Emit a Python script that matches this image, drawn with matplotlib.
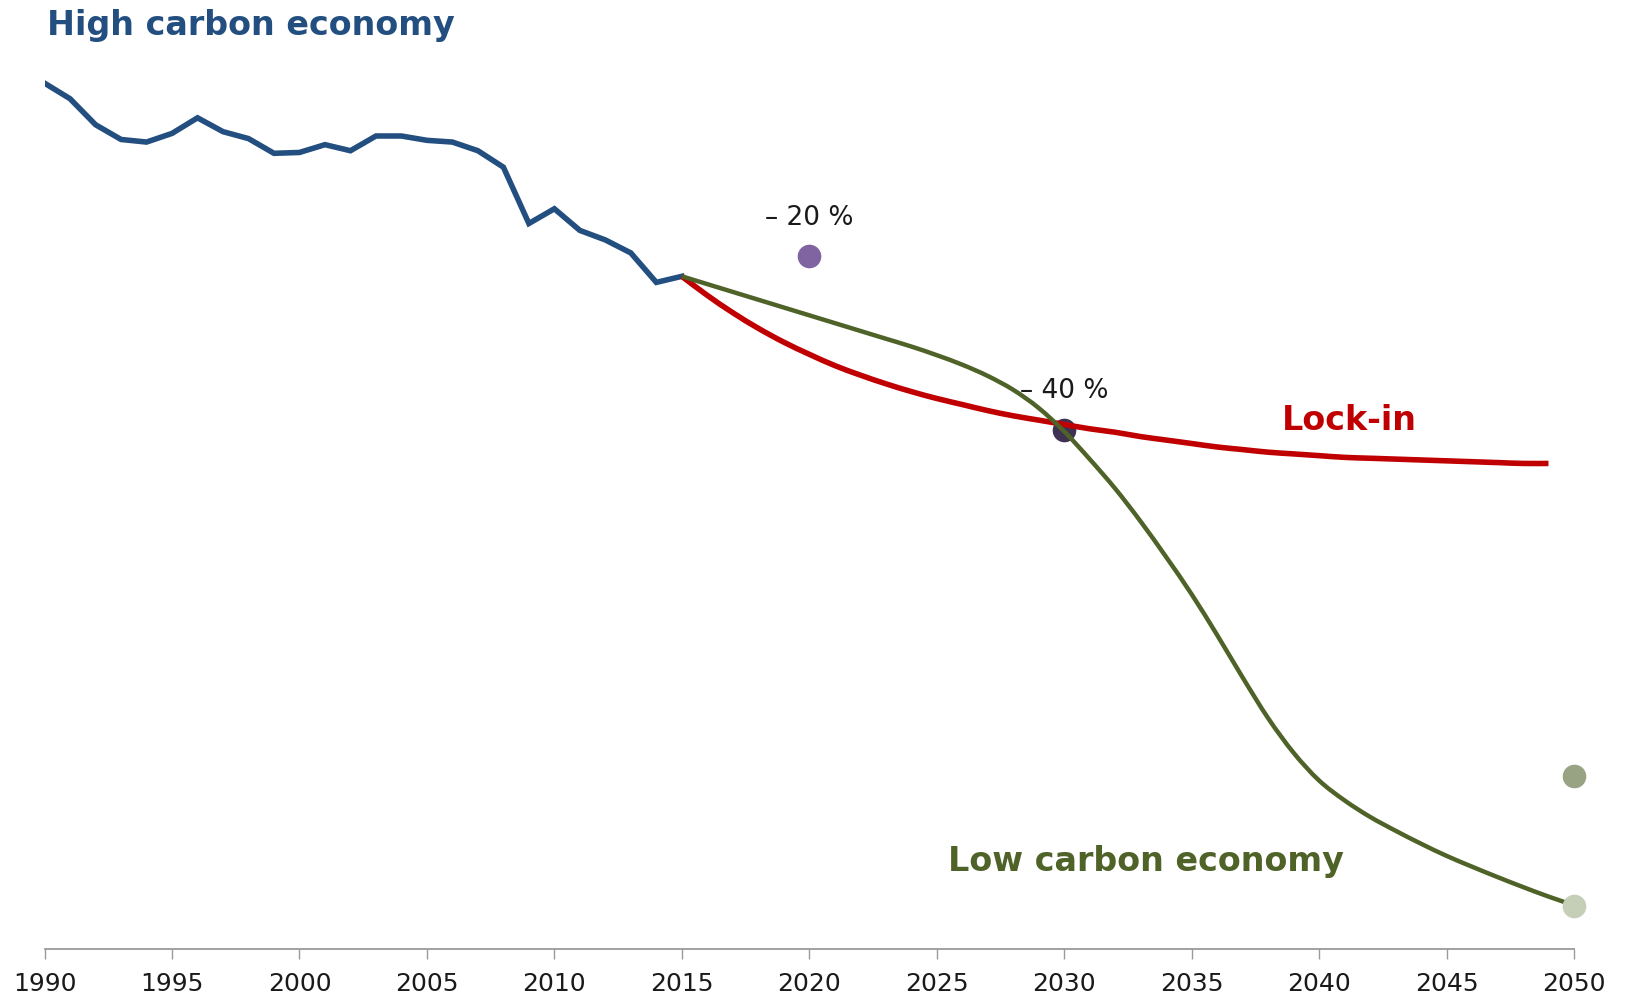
import numpy as np
import matplotlib
matplotlib.use("Agg")
import matplotlib.pyplot as plt
from matplotlib.path import Path
from matplotlib.patches import PathPatch

# Emissions index, 1990 = 100
hist_years = list(range(1990, 2016))
hist_values = [100.0, 98.2, 95.2, 93.5, 93.2, 94.2, 96.0, 94.4, 93.6, 91.9,
               92.0, 92.9, 92.2, 93.9, 93.9, 93.4, 93.2, 92.2, 90.3, 83.8,
               85.5, 83.0, 81.9, 80.4, 77.0, 77.7]

lockin_years = list(range(2015, 2050))
lockin_values = [77.7, 75.5, 73.5, 71.7, 70.1, 68.7, 67.4, 66.3, 65.3, 64.4,
                 63.6, 62.9, 62.2, 61.6, 61.1, 60.6, 60.1, 59.7, 59.2, 58.8,
                 58.4, 58.0, 57.7, 57.4, 57.2, 57.0, 56.8, 56.7, 56.6, 56.5,
                 56.4, 56.3, 56.2, 56.1, 56.1]

low_years = list(range(2015, 2051))
low_values = [77.7, 76.8, 75.9, 75.0, 74.1, 73.2, 72.3, 71.4, 70.5, 69.6,
              68.6, 67.5, 66.2, 64.6, 62.5, 59.8, 56.6, 53.2, 49.4, 45.3,
              41.0, 36.3, 31.4, 26.7, 22.7, 19.5, 17.2, 15.3, 13.7, 12.2,
              10.8, 9.55, 8.35, 7.2, 6.1, 5.1]

# Reduction targets relative to 1990
target_years = [2020, 2030]
target_values = [80, 60]
target_labels = ["\u2013 20 %", "\u2013 40 %"]
target_colors = ["#8064a2", "#3f3151"]

range_2050 = [20, 5]
range_colors = ["#98a383", "#c5cfb8"]

x_ticks = list(range(1990, 2051, 5))

BLUE = "#234e80"
RED = "#c00000"
GREEN = "#4f6228"


def smooth_path(xs, ys):
    """Catmull-Rom curve through the yearly points, as cubic Bezier segments."""
    pts = np.column_stack([xs, ys]).astype(float)
    n = len(pts)
    verts = [pts[0]]
    codes = [Path.MOVETO]
    for i in range(n - 1):
        p0 = pts[i - 1] if i > 0 else pts[i]
        p1 = pts[i]
        p2 = pts[i + 1]
        p3 = pts[i + 2] if i + 2 < n else pts[i + 1]
        verts += [p1 + (p2 - p0) / 6, p2 - (p3 - p1) / 6, p2]
        codes += [Path.CURVE4] * 3
    return Path(verts, codes)


fig = plt.figure(figsize=(16.27, 9.98), dpi=100)
ax = fig.add_axes([0.0274, 0.0487, 0.94, 0.9513])

ax.plot(hist_years, hist_values, color=BLUE, linewidth=4.0,
        solid_joinstyle="miter", zorder=3)
ax.add_patch(PathPatch(smooth_path(lockin_years, lockin_values), fill=False,
                       edgecolor=RED, linewidth=4.0, capstyle="butt", zorder=3))
ax.add_patch(PathPatch(smooth_path(low_years, low_values), fill=False,
                       edgecolor=GREEN, linewidth=3.2, capstyle="butt", zorder=4))

# 2030 marker sits underneath the pathways, 2020 one stands alone
ax.plot(target_years[0], target_values[0], "o", color=target_colors[0],
        markersize=16, zorder=5)
ax.plot(target_years[1], target_values[1], "o", color=target_colors[1],
        markersize=16, zorder=2)
for yr, val, lab in zip(target_years, target_values, target_labels):
    ax.annotate(lab, (yr, val), xytext=(0, 28), textcoords="offset points",
                ha="center", va="center", fontsize=19, color="#1a1a1a")

for val, col in zip(range_2050, range_colors):
    ax.plot(2050, val, "o", color=col, markersize=16, zorder=6, clip_on=False)

ax.set_xlim(1990, 2050)
ax.set_ylim(0, 109.6)
ax.set_xticks(x_ticks)
ax.set_yticks([])
for side in ("top", "right", "left"):
    ax.spines[side].set_visible(False)
ax.spines["bottom"].set_color("#9a9a9a")
ax.spines["bottom"].set_linewidth(1.3)
ax.tick_params(axis="x", direction="out", length=7, width=1.0,
               color="#9a9a9a", pad=9, labelsize=18, labelcolor="#1a1a1a")

fig.text(0.0287, 0.974, "High carbon economy", fontsize=24, fontweight="bold",
         color=BLUE, ha="left", va="center")
ax.text(2041.2, 61.0, "Lock-in", fontsize=24, fontweight="bold",
        color=RED, ha="center", va="center")
ax.text(2033.2, 10.2, "Low carbon economy", fontsize=24, fontweight="bold",
        color=GREEN, ha="center", va="center")

fig.savefig("out.png", dpi=100, facecolor="white")
